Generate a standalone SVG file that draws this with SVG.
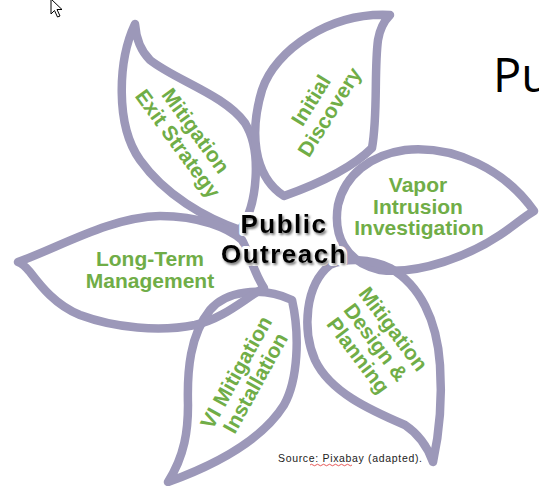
<svg xmlns="http://www.w3.org/2000/svg" width="539" height="486" viewBox="0 0 539 486">
<defs>
<style>
.petal{fill:none;stroke:#9c98b9;stroke-width:8.5;stroke-linejoin:round;stroke-linecap:round}
.lbl{font-family:"Liberation Sans",Arial,sans-serif;font-weight:bold;font-size:21px;fill:#70ad47;text-anchor:middle}
.ctr{font-family:"Liberation Sans",Arial,sans-serif;font-weight:bold;font-size:26px;letter-spacing:1.5px;text-anchor:middle}
.halo{fill:#fff;stroke:#fff;stroke-width:6;stroke-linejoin:round}
</style>
<filter id="shadow" x="-10%" y="-20%" width="130%" height="150%">
<feDropShadow dx="1.5" dy="2" stdDeviation="1.2" flood-color="#555" flood-opacity="0.8"/>
</filter>
</defs>
<rect width="539" height="486" fill="#fff"/>

<g id="cursor">
<path d="M51,-1 L51,14 L54.5,10.5 L57.5,17 L60,16 L57,9.5 L62,9.5 Z" fill="#fff" stroke="#000" stroke-width="1" stroke-linejoin="round"/>
</g>

<g id="node-exit-strategy">
<path class="petal" d="M135,24 C118,60 115,125 140,160 C165,195 205,218 240,230 C258,205 262,150 245,123 C225,95 175,80 150,60 C140,50 136,38 135,24 Z"/>
<g transform="translate(187,137) rotate(54)">
<text class="lbl" x="0" y="-3.5">Mitigation</text>
<text class="lbl" x="0" y="18.5">Exit Strategy</text>
</g>
</g>

<g id="node-initial-discovery">
<path class="petal" d="M390,15 C330,12 275,50 262,90 C250,130 252,175 284,196 C315,185 350,170 372,148 C378,115 374,70 378,40 C380,28 385,20 390,15 Z"/>
<g transform="translate(320,106) rotate(-58)">
<text class="lbl" x="0" y="-3.5">Initial</text>
<text class="lbl" x="0" y="18.5">Discovery</text>
</g>
</g>

<g id="node-vapor-intrusion">
<path class="petal" d="M534,211 C505,170 455,145 405,150 C370,155 345,175 338,205 C333,235 345,262 380,270 C420,275 470,255 500,235 C515,225 525,216 534,211 Z"/>
<text class="lbl" x="418" y="192">Vapor</text>
<text class="lbl" x="418" y="214">Intrusion</text>
<text class="lbl" x="419" y="235">Investigation</text>
</g>

<g id="node-design-planning">
<path class="petal" d="M433,462 C440,430 442,395 440,365 C437,320 420,285 390,268 C370,258 345,258 330,265 C305,285 302,330 315,360 C330,392 370,410 405,425 C420,435 428,448 433,462 Z"/>
<g transform="translate(376,342) rotate(53)">
<text class="lbl" x="0" y="-14.5">Mitigation</text>
<text class="lbl" x="0" y="7.5">Design &amp;</text>
<text class="lbl" x="0" y="29.5">Planning</text>
</g>
</g>

<g id="node-vi-installation">
<path class="petal" d="M168,482 C185,455 188,430 188,405 C187,370 190,335 210,310 C225,292 260,285 292,300 C300,335 298,380 284,405 C262,440 215,465 168,482 Z"/>
<g transform="translate(245.5,377.5) rotate(-61)">
<text class="lbl" x="0" y="-3.5">VI Mitigation</text>
<text class="lbl" x="0" y="18.5">Installation</text>
</g>
</g>

<g id="node-long-term">
<path class="petal" d="M18,262 C60,247 110,217 160,216 C200,216 228,228 242,240 C250,255 255,275 264,288 C245,298 225,318 195,325 C160,332 115,328 80,315 C55,305 40,285 30,272 C25,266 21,263 18,262 Z"/>
<text class="lbl" x="150" y="266">Long-Term</text>
<text class="lbl" x="150" y="288">Management</text>
</g>

<g id="node-public-outreach">
<text class="ctr halo" x="284" y="233">Public</text>
<text class="ctr halo" x="284" y="263">Outreach</text>
<g filter="url(#shadow)">
<text class="ctr" x="284" y="233" fill="#000">Public</text>
<text class="ctr" x="284" y="263" fill="#000">Outreach</text>
</g>
</g>

<g id="source-note">
<text x="278" y="462" font-family="Liberation Sans, Arial, sans-serif" font-size="10.5" fill="#222" textLength="144" lengthAdjust="spacing">Source: Pixabay (adapted).</text>
<path d="M310,465 q1.5,-1.5 3,0 t3,0 t3,0 t3,0 t3,0 t3,0 t3,0 t3,0 t3,0 t3,0 t3,0 t3,0 t3,0 t3,0" fill="none" stroke="#e03030" stroke-width="0.8"/>
</g>

<g id="title-fragment">
<text x="493" y="92" font-family="'Open Sans','Liberation Sans',sans-serif" font-size="47" fill="#000">Pu</text>
</g>
</svg>
